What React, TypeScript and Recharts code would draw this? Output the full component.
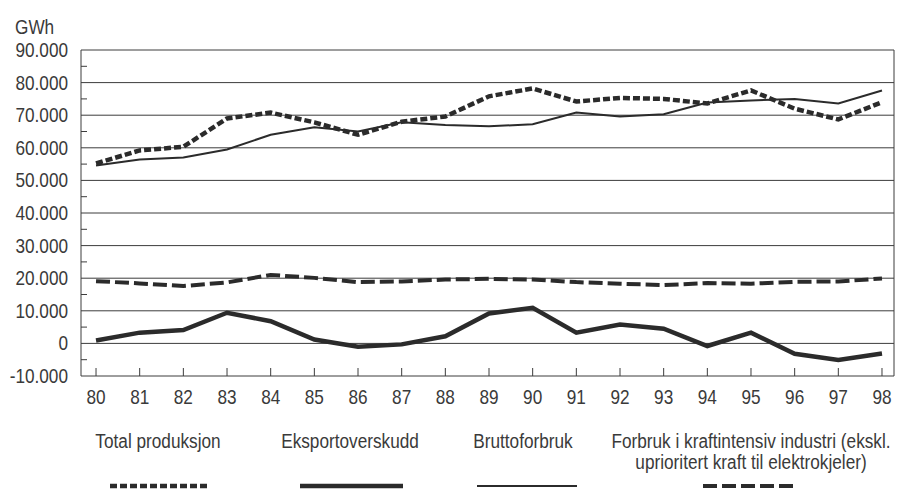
import React from 'react';
import { LineChart, Line, XAxis, YAxis, ReferenceLine } from 'recharts';

const years = [80, 81, 82, 83, 84, 85, 86, 87, 88, 89, 90, 91, 92, 93, 94, 95, 96, 97, 98];
const totalProduksjon = [55200, 59200, 60300, 69000, 70800, 67800, 64000, 68000, 69600, 75800, 78200, 74200, 75300, 75000, 73600, 77600, 72000, 68700, 74000];
const eksportoverskudd = [900, 3300, 4100, 9400, 6800, 1200, -1000, -300, 2200, 9200, 10900, 3300, 5800, 4500, -800, 3300, -3200, -5100, -3100];
const bruttoforbruk = [54600, 56400, 57000, 59500, 64000, 66300, 65000, 67800, 67000, 66600, 67200, 70800, 69600, 70300, 73900, 74500, 75000, 73600, 77600];
const kraftintensiv = [19100, 18400, 17600, 18700, 21000, 20100, 18800, 19000, 19600, 19800, 19600, 18800, 18300, 17900, 18500, 18300, 18900, 19000, 19900];

const yTicks = [-10000, -5000, 0, 5000, 10000, 15000, 20000, 25000, 30000, 35000, 40000, 45000, 50000, 55000, 60000, 65000, 70000, 75000, 80000, 85000, 90000];
const gridValues = [0, 10000, 20000, 30000, 40000, 50000, 60000, 70000, 80000, 90000];
const xDomain: [number, number] = [79.656, 98.275];

const legendItems = [
  { label: ['Total produksjon'], cx: 158, lx1: 110, lx2: 210, width: 4.5, dash: '7 3' },
  { label: ['Eksportoverskudd'], cx: 350, lx1: 300, lx2: 403, width: 4.5, dash: undefined },
  { label: ['Bruttoforbruk'], cx: 523, lx1: 477, lx2: 577, width: 2, dash: undefined },
  { label: ['Forbruk i kraftintensiv industri (ekskl.', 'uprioritert kraft til elektrokjeler)'], cx: 751, lx1: 703, lx2: 795, width: 4, dash: '14 5' },
];

const data = years.map((y, i) => ({
  year: y,
  total: totalProduksjon[i],
  eksport: eksportoverskudd[i],
  brutto: bruttoforbruk[i],
  kraft: kraftintensiv[i],
}));

const FONT = '"Liberation Sans", Arial, sans-serif';
const SX = 0.86;
const TEXT = '#3a3a3a';
const LINE = '#2b2b2b';
const GRID = '#3c3c3c';

const fmt = (v: number) => {
  const s = Math.abs(v).toString().replace(/\B(?=(\d{3})+(?!\d))/g, '.');
  return v < 0 ? '-' + s : s;
};

const XTick = (props: any) => {
  const { x, y, payload } = props;
  return (
    <g>
      <line x1={x} x2={x} y1={y - 8} y2={y} stroke={GRID} strokeWidth={1} />
      <text
        transform={`translate(${x},${y + 21}) scale(${SX},1)`}
        x={0}
        y={0}
        dy="0.35em"
        textAnchor="middle"
        fill={TEXT}
        fontSize={20}
        fontFamily={FONT}
      >
        {payload.value}
      </text>
    </g>
  );
};

const YTick = (props: any) => {
  const { x, y, payload } = props;
  const v = payload.value as number;
  if (v % 10000 !== 0) {
    return <line x1={x} x2={x + 6} y1={y} y2={y} stroke={GRID} strokeWidth={1} />;
  }
  return (
    <text
      transform={`translate(${x - 13},${y}) scale(${SX},1)`}
      x={0}
      y={0}
      dy="0.35em"
      textAnchor="end"
      fill={TEXT}
      fontSize={20}
      fontFamily={FONT}
    >
      {fmt(v)}
    </text>
  );
};

export default function App() {
  return (
    <div style={{ position: 'absolute', left: 0, top: 0, width: 897, height: 491, background: '#fff', fontFamily: FONT }}>
      <div style={{ position: 'absolute', left: 15, top: 15, fontSize: 20, color: TEXT, lineHeight: '24px', transform: `scaleX(${SX})`, transformOrigin: 'left top' }}>GWh</div>
      <LineChart width={897} height={491} data={data} margin={{ top: 50, right: 3, bottom: 85, left: 0 }}>
        <XAxis
          dataKey="year"
          type="number"
          domain={xDomain}
          ticks={years}
          interval={0}
          allowDataOverflow
          height={30}
          tickSize={0}
          tickMargin={0}
          tickLine={false}
          axisLine={{ stroke: GRID, strokeWidth: 1 }}
          tick={<XTick />}
        />
        <YAxis
          type="number"
          domain={[-10000, 90000]}
          ticks={yTicks}
          interval={0}
          width={81}
          tickSize={0}
          tickMargin={0}
          tickLine={false}
          axisLine={{ stroke: GRID, strokeWidth: 1 }}
          tick={<YTick />}
        />
        {gridValues.map((g) => (
          <ReferenceLine key={g} y={g} stroke={GRID} strokeWidth={1} />
        ))}
        <ReferenceLine x={xDomain[1]} stroke={GRID} strokeWidth={1} />
        <Line dataKey="brutto" stroke={LINE} strokeWidth={2} dot={false} isAnimationActive={false} />
        <Line dataKey="total" stroke={LINE} strokeWidth={4.5} strokeDasharray="7 3" dot={false} isAnimationActive={false} />
        <Line dataKey="kraft" stroke={LINE} strokeWidth={4} strokeDasharray="14 5" dot={false} isAnimationActive={false} />
        <Line dataKey="eksport" stroke={LINE} strokeWidth={4.5} dot={false} isAnimationActive={false} />
      </LineChart>
      {legendItems.map((it) => (
        <div
          key={it.label[0]}
          style={{
            position: 'absolute',
            left: it.cx - 200,
            width: 400,
            top: 431,
            textAlign: 'center',
            fontSize: 20,
            lineHeight: '21px',
            color: TEXT,
            whiteSpace: 'nowrap',
            transform: `scaleX(${SX})`,
            transformOrigin: 'center top',
          }}
        >
          {it.label.map((l) => (
            <div key={l}>{l}</div>
          ))}
        </div>
      ))}
      <svg width={897} height={491} style={{ position: 'absolute', left: 0, top: 0, pointerEvents: 'none' }}>
        {legendItems.map((it) => (
          <line
            key={it.label[0]}
            x1={it.lx1}
            x2={it.lx2}
            y1={486}
            y2={486}
            stroke={LINE}
            strokeWidth={it.width}
            strokeDasharray={it.dash}
          />
        ))}
      </svg>
    </div>
  );
}
